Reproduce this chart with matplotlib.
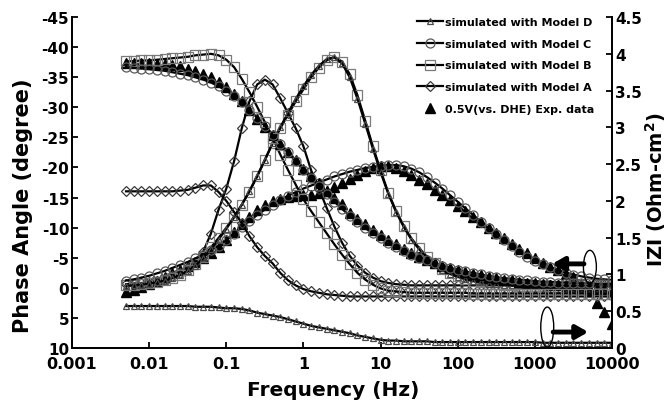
import matplotlib
matplotlib.use('Agg')  # no display

import matplotlib.pyplot as plt
import numpy as np
from matplotlib.patches import Ellipse
from matplotlib.lines import Line2D
from matplotlib.ticker import NullLocator

plt.rcParams['font.family'] = ['DejaVu Sans']
plt.rcParams['font.weight'] = 'bold'
plt.rcParams['axes.labelweight'] = 'bold'
plt.rcParams['mathtext.default'] = 'bf'
plt.rcParams['axes.unicode_minus'] = False

# measurement grid, 10 points per decade from 0.005 Hz to 10 kHz
freq = np.logspace(-2.3, 4.0, 64)

# experimental data (0.5 V vs. DHE)
exp_z = [3.88, 3.88, 3.87, 3.87, 3.86, 3.86, 3.85, 3.83, 3.80, 3.77,
         3.73, 3.68, 3.62, 3.55, 3.46, 3.36, 3.24, 3.12, 3.01, 2.90,
         2.77, 2.66, 2.55, 2.44, 2.34, 2.24, 2.14, 2.04, 1.96, 1.84,
         1.76, 1.68, 1.60, 1.53, 1.47, 1.41, 1.35, 1.29, 1.24, 1.20,
         1.16, 1.12, 1.09, 1.06, 1.03, 1.01, 0.99, 0.97, 0.95, 0.93,
         0.92, 0.90, 0.89, 0.88, 0.87, 0.86, 0.85, 0.84, 0.83, 0.82,
         0.81, 0.80, 0.80, 0.79]
exp_phase = [0.7, 0.3, -0.1, -0.6, -1.2, -1.8, -2.4, -3.0, -3.6, -4.3,
             -5.0, -5.8, -6.8, -8.0, -9.3, -10.6, -11.8, -12.9, -13.7, -14.4,
             -14.8, -15.1, -15.3, -15.4, -15.5, -15.7, -16.1, -16.7, -17.4, -18.1,
             -18.8, -19.4, -19.9, -20.2, -20.2, -19.9, -19.4, -18.7, -18.0, -17.2,
             -16.3, -15.4, -14.6, -13.6, -12.7, -11.8, -10.9, -10.0, -9.1, -8.2,
             -7.3, -6.5, -5.7, -4.9, -4.2, -3.5, -2.9, -2.3, -1.8, -0.6,
             0.5, 2.5, 4.0, 6.0]

# Model A (diamonds)
a_z = [2.13, 2.13, 2.13, 2.13, 2.13, 2.13, 2.13, 2.14, 2.15, 2.18,
       2.21, 2.21, 2.12, 2.00, 1.85, 1.70, 1.52, 1.37, 1.25, 1.15,
       1.02, 0.92, 0.85, 0.80, 0.77, 0.75, 0.73, 0.72, 0.71, 0.70,
       0.70, 0.70, 0.70, 0.70, 0.70, 0.70, 0.70, 0.70, 0.70, 0.70,
       0.70, 0.70, 0.70, 0.70, 0.70, 0.70, 0.70, 0.70, 0.70, 0.70,
       0.70, 0.70, 0.70, 0.70, 0.70, 0.70, 0.70, 0.70, 0.70, 0.70,
       0.70, 0.70, 0.70, 0.70]
a_phase = [-0.6, -0.7, -0.8, -1.0, -1.2, -1.5, -1.9, -2.5, -3.3, -4.3,
           -6.0, -9.0, -13.0, -16.5, -21.0, -26.5, -31.0, -33.8, -34.6, -33.8,
           -31.5, -29.0, -26.5, -23.5, -19.5, -16.5, -13.3, -10.2, -7.5, -5.3,
           -3.7, -2.5, -1.7, -1.1, -0.8, -0.6, -0.5, -0.4, -0.4, -0.4,
           -0.4, -0.4, -0.4, -0.4, -0.4, -0.4, -0.4, -0.4, -0.4, -0.4,
           -0.4, -0.4, -0.4, -0.4, -0.4, -0.4, -0.4, -0.4, -0.4, -0.4,
           -0.4, -0.4, -0.4, -0.4]

# Model B (squares)
b_z = [3.90, 3.90, 3.91, 3.91, 3.92, 3.93, 3.94, 3.95, 3.96, 3.98,
       3.99, 4.00, 3.98, 3.92, 3.82, 3.66, 3.48, 3.28, 3.07, 2.86,
       2.63, 2.42, 2.22, 2.02, 1.86, 1.71, 1.56, 1.41, 1.27, 1.14,
       1.02, 0.93, 0.86, 0.81, 0.78, 0.77, 0.76, 0.75, 0.75, 0.75,
       0.75, 0.75, 0.75, 0.75, 0.75, 0.74, 0.74, 0.74, 0.74, 0.74,
       0.74, 0.74, 0.74, 0.74, 0.74, 0.74, 0.74, 0.74, 0.74, 0.74,
       0.74, 0.74, 0.74, 0.74]
b_phase = [-0.4, -0.5, -0.6, -0.8, -1.0, -1.3, -1.7, -2.2, -3.0, -4.0,
           -5.2, -6.7, -8.3, -10.0, -11.8, -13.8, -16.0, -18.5, -21.2, -24.0,
           -26.5, -28.8, -31.0, -33.0, -35.0, -36.6, -37.8, -38.4, -37.6, -35.5,
           -32.0, -27.8, -23.5, -19.5, -15.8, -12.8, -10.3, -8.2, -6.6, -5.2,
           -4.1, -3.2, -2.5, -1.9, -1.5, -1.2, -0.9, -0.7, -0.6, -0.5,
           -0.4, -0.3, -0.3, -0.3, -0.3, -0.2, -0.2, -0.2, -0.2, -0.2,
           -0.2, -0.2, -0.2, -0.2]

# Model C (circles)
c_z = [3.82, 3.81, 3.80, 3.79, 3.78, 3.77, 3.75, 3.73, 3.71, 3.68,
       3.65, 3.61, 3.56, 3.50, 3.43, 3.34, 3.24, 3.13, 3.02, 2.90,
       2.78, 2.66, 2.54, 2.42, 2.31, 2.20, 2.09, 1.99, 1.89, 1.80,
       1.71, 1.63, 1.56, 1.49, 1.43, 1.37, 1.32, 1.27, 1.23, 1.19,
       1.15, 1.12, 1.09, 1.06, 1.04, 1.02, 1.00, 0.98, 0.96, 0.95,
       0.94, 0.93, 0.92, 0.91, 0.90, 0.90, 0.89, 0.89, 0.88, 0.88,
       0.88, 0.87, 0.87, 0.87]
c_phase = [-1.2, -1.4, -1.7, -2.0, -2.4, -2.8, -3.3, -3.8, -4.3, -4.9,
           -5.5, -6.2, -7.0, -7.9, -9.0, -10.1, -11.1, -12.1, -13.0, -13.8,
           -14.6, -15.3, -15.9, -16.5, -17.0, -17.5, -18.0, -18.5, -18.9, -19.3,
           -19.6, -19.9, -20.1, -20.3, -20.4, -20.4, -20.2, -19.8, -19.2, -18.4,
           -17.5, -16.5, -15.4, -14.3, -13.2, -12.1, -11.0, -9.9, -8.9, -7.9,
           -6.9, -6.0, -5.2, -4.5, -3.9, -3.4, -2.9, -2.5, -2.2, -1.9,
           -1.7, -1.5, -1.4, -1.3]

# Model D (open triangles)
d_z = [0.57, 0.57, 0.57, 0.57, 0.57, 0.57, 0.57, 0.57, 0.57, 0.56,
       0.56, 0.56, 0.55, 0.54, 0.54, 0.53, 0.51, 0.48, 0.46, 0.44,
       0.42, 0.39, 0.36, 0.33, 0.30, 0.28, 0.26, 0.24, 0.22, 0.20,
       0.17, 0.15, 0.13, 0.11, 0.10, 0.10, 0.09, 0.09, 0.09, 0.09,
       0.08, 0.08, 0.08, 0.08, 0.08, 0.08, 0.08, 0.08, 0.08, 0.08,
       0.08, 0.08, 0.08, 0.08, 0.07, 0.07, 0.07, 0.07, 0.07, 0.07,
       0.07, 0.07, 0.07, 0.07]
d_phase = [-0.3, -0.4, -0.5, -0.7, -0.9, -1.2, -1.6, -2.1, -2.8, -3.7,
           -4.9, -6.4, -8.0, -9.8, -11.7, -13.8, -16.1, -18.6, -21.3, -24.1,
           -26.7, -29.1, -31.4, -33.5, -35.4, -36.9, -38.0, -38.3, -37.3, -35.0,
           -31.4, -27.3, -23.1, -19.2, -15.6, -12.6, -10.1, -8.0, -6.4, -5.0,
           -3.9, -3.0, -2.3, -1.8, -1.4, -1.1, -0.9, -0.7, -0.6, -0.5,
           -0.4, -0.4, -0.3, -0.3, -0.3, -0.3, -0.3, -0.3, -0.3, -0.3,
           -0.3, -0.3, -0.3, -0.3]

legend_labels = ['simulated with Model D', 'simulated with Model C',
                 'simulated with Model B', 'simulated with Model A',
                 '0.5V(vs. DHE) Exp. data']
freq_ticks = [1e-3, 1e-2, 1e-1, 1, 10, 100, 1000, 10000]
freq_ticklabels = ['0.001', '0.01', '0.1', '1', '10', '100', '1000', '10000']
phase_ticks = [-45, -40, -35, -30, -25, -20, -15, -10, -5, 0, 5, 10]
z_ticks = [0, 0.5, 1, 1.5, 2, 2.5, 3, 3.5, 4, 4.5]
z_ticklabels = ['0', '0.5', '1', '1.5', '2', '2.5', '3', '3.5', '4', '4.5']

# marker styles per series
styles = {
    'A': dict(marker='D', ms=5, mec='#3a3a3a'),
    'B': dict(marker='s', ms=7.5, mec='#7a7a7a'),
    'C': dict(marker='o', ms=6.5, mec='#5a5a5a'),
    'D': dict(marker='^', ms=5, mec='#4a4a4a'),
}
line_kw = dict(color='black', lw=1.6, mfc='none', mew=0.9)

fig = plt.figure(figsize=(6.7, 4.02), dpi=100)
ax = fig.add_axes([0.1075, 0.132, 0.806, 0.823])
ax2 = ax.twinx()

# experimental points
ax.plot(freq, exp_phase, ls='none', marker='^', ms=6.5, color='black', zorder=2)
ax2.plot(freq, exp_z, ls='none', marker='^', ms=6.5, color='black', zorder=2)

# simulated curves: phase on left axis, |Z| on right axis
ax.plot(freq, a_phase, **styles['A'], **line_kw)
ax.plot(freq, b_phase, **styles['B'], **line_kw)
ax.plot(freq, c_phase, **styles['C'], **line_kw)
ax.plot(freq, d_phase, **styles['D'], **line_kw)
ax2.plot(freq, a_z, **styles['A'], **line_kw)
ax2.plot(freq, b_z, **styles['B'], **line_kw)
ax2.plot(freq, c_z, **styles['C'], **line_kw)
ax2.plot(freq, d_z, marker='^', ms=4, mec='#4a4a4a', **line_kw)

ax.set_xscale('log')
ax.set_xlim(1e-3, 1e4)
ax.set_ylim(10, -45)
ax2.set_ylim(0, 4.5)

ax.set_xticks(freq_ticks)
ax.set_xticklabels(freq_ticklabels)
ax.xaxis.set_minor_locator(NullLocator())
ax.set_yticks(phase_ticks)
ax.set_yticklabels([str(t) for t in phase_ticks])
ax2.set_yticks(z_ticks)
ax2.set_yticklabels(z_ticklabels)

for a in (ax, ax2):
    a.spines['top'].set_visible(False)
    for s in ('left', 'right', 'bottom'):
        a.spines[s].set_linewidth(1.3)
    a.tick_params(direction='in', length=4, width=1.3, labelsize=11)
ax.tick_params(axis='x', labelsize=11.5, pad=6)
ax.tick_params(axis='y', pad=2)
ax2.tick_params(axis='y', pad=2)

ax.set_xlabel('Frequency (Hz)', fontsize=14.5)
ax.xaxis.set_label_coords(0.483, -0.097)
ax.set_ylabel('Phase Angle (degree)', fontsize=15)
ax.yaxis.set_label_coords(-0.072, 0.432)
ax2.set_ylabel(r'IZI (Ohm-cm$^2$)', fontsize=14)
ax2.yaxis.set_label_coords(1.058, 0.48)

# legend
handles = [Line2D([], [], **styles['D'], **line_kw),
           Line2D([], [], **styles['C'], **line_kw),
           Line2D([], [], **styles['B'], **line_kw),
           Line2D([], [], **styles['A'], **line_kw),
           Line2D([], [], ls='none', marker='^', ms=6.5, color='black')]
ax2.legend(handles, legend_labels, loc='upper left', bbox_to_anchor=(0.639, 1.0),
           frameon=False, fontsize=8, handlelength=2.3, handletextpad=0.25,
           labelspacing=1.05, borderaxespad=0, borderpad=0, numpoints=1)

# ellipses with arrows marking which axis the curve groups belong to
ax2.add_patch(Ellipse((0.959, 0.245), 0.024, 0.10, transform=ax2.transAxes,
                      fill=False, ec='black', lw=1, zorder=5))
ax2.annotate('', xy=(0.889, 0.254), xytext=(0.948, 0.254), xycoords='axes fraction',
             arrowprops=dict(arrowstyle='-|>,head_length=0.7,head_width=0.4',
                             color='black', lw=3.5, shrinkA=0, shrinkB=0))
ax2.add_patch(Ellipse((0.880, 0.063), 0.024, 0.121, transform=ax2.transAxes,
                      fill=False, ec='black', lw=1, zorder=5))
ax2.annotate('', xy=(0.956, 0.048), xytext=(0.891, 0.048), xycoords='axes fraction',
             arrowprops=dict(arrowstyle='-|>,head_length=0.7,head_width=0.4',
                             color='black', lw=3.5, shrinkA=0, shrinkB=0))

fig.savefig('out.png', dpi=100)
plt.close(fig)
